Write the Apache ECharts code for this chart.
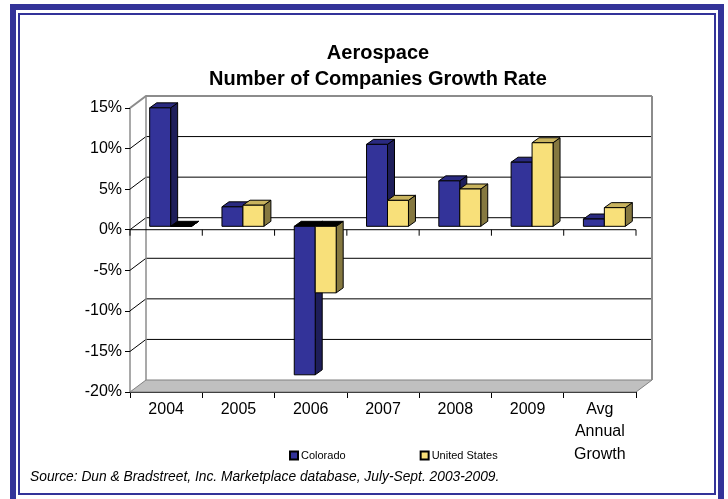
<!DOCTYPE html>
<html>
<head>
<meta charset="utf-8">
<script src="https://cdn.jsdelivr.net/npm/echarts@6/dist/echarts.min.js"></script>
<style>
html,body{margin:0;padding:0;background:#fff;}
#c{width:728px;height:499px;}
</style>
</head>
<body>
<div id="c"></div>
<script>
const categories = ['2004','2005','2006','2007','2008','2009','Avg\nAnnual\nGrowth'];
const colorado = [14.6, 2.4, -18.3, 10.1, 5.6, 7.9, 0.9];
const unitedStates = [0, 2.6, -8.2, 3.2, 4.6, 10.3, 2.3];
const yTicks = [-20, -15, -10, -5, 0, 5, 10, 15];

// 3D look parameters (pixels)
const WDX = 16, WDY = -12;     // back wall depth
const BFX = 4.5, BFY = -3.4;   // bar front-plane offset
const BDX = 7, BDY = -5;       // bar depth
const BAR_FRAC = 0.29;

const chart = echarts.init(document.getElementById('c'), null, {renderer:'canvas'});

function wallsRender(params, api) {
  const cs = params.coordSys;
  const L = cs.x, R = cs.x + cs.width, T = cs.y, B = cs.y + cs.height;
  const kids = [];
  kids.push({type:'polygon', shape:{points:[[L+WDX,T+WDY],[R+WDX,T+WDY],[R+WDX,B+WDY],[L+WDX,B+WDY]]},
    style:{fill:'#ffffff'}});
  kids.push({type:'polygon', shape:{points:[[L,B],[R,B],[R+WDX,B+WDY],[L+WDX,B+WDY]]},
    style:{fill:'#c0c0c0', stroke:'#808080', lineWidth:1}});
  yTicks.forEach(t => {
    const y = api.coord([0, t])[1];
    if (t === yTicks[0]) return;
    const isTop = t === yTicks[yTicks.length-1];
    kids.push({type:'polyline', shape:{points:[[L,y],[L+WDX,y+WDY],[R+WDX,y+WDY]]},
      style:{stroke: isTop ? '#8c8c8c' : '#000000', lineWidth: isTop ? 2 : 1, fill:null}});
  });
  kids.push({type:'line', shape:{x1:L+WDX,y1:T+WDY,x2:L+WDX,y2:B+WDY}, style:{stroke:'#8c8c8c', lineWidth:1.5}});
  kids.push({type:'line', shape:{x1:R+WDX,y1:T+WDY,x2:R+WDX,y2:B+WDY}, style:{stroke:'#8c8c8c', lineWidth:2}});
  // front zero line with ticks
  const y0 = api.coord([0, 0])[1];
  kids.push({type:'line', shape:{x1:L,y1:y0,x2:R,y2:y0}, style:{stroke:'#000', lineWidth:1}});
  const n = categories.length;
  for (let k = 0; k <= n; k++) {
    const x = L + k * cs.width / n;
    kids.push({type:'line', shape:{x1:x,y1:y0,x2:x,y2:y0+6}, style:{stroke:'#000', lineWidth:1}});
  }
  return {type:'group', children:kids};
}

function makeBarRender(side, front, sideCol, topCol) {
  return function(params, api) {
    const i = api.value(0), v = api.value(1);
    const bw = api.size([1, 0])[0];
    const w = bw * BAR_FRAC;
    const c = api.coord([i, 0]);
    const p = api.coord([i, v]);
    const xl = c[0] + (side === 0 ? -w : 0) + BFX;
    const ya = c[1] + BFY, yb = p[1] + BFY;
    const yt = Math.min(ya, yb), ybt = Math.max(ya, yb);
    const tc = v <= 0 ? '#000000' : topCol;
    const st = {stroke:'#000', lineWidth:1, lineJoin:'round'};
    return {type:'group', children:[
      {type:'polygon', shape:{points:[[xl+w,yt],[xl+w+BDX,yt+BDY],[xl+w+BDX,ybt+BDY],[xl+w,ybt]]},
        style:Object.assign({fill:sideCol}, st)},
      {type:'polygon', shape:{points:[[xl,yt],[xl+w,yt],[xl+w+BDX,yt+BDY],[xl+BDX,yt+BDY]]},
        style:Object.assign({fill:tc}, st)},
      {type:'rect', shape:{x:xl, y:yt, width:w, height:ybt-yt},
        style:Object.assign({fill:front}, st)}
    ]};
  };
}

const option = {
  animation:false,
  backgroundColor:'#ffffff',
  title:{
    text:'Aerospace\nNumber of Companies Growth Rate',
    left:373, top:35, textAlign:'center',
    textStyle:{fontFamily:'Liberation Sans', fontSize:20, fontWeight:'bold', color:'#000', lineHeight:26}
  },
  legend:{
    data:['Colorado','United States'],
    left:284, top:445, icon:'rect', itemWidth:8, itemHeight:8, itemGap:74,
    textStyle:{fontFamily:'Liberation Sans', fontSize:11, color:'#000', padding:[0,0,0,-2]}
  },
  grid:{left:130, right:92, top:108, bottom:107},
  xAxis:{
    type:'category', data:categories,
    axisLine:{onZero:false, lineStyle:{color:'#000', width:1}},
    axisTick:{show:true, length:6, lineStyle:{color:'#000'}},
    axisLabel:{fontFamily:'Liberation Sans', fontSize:16, color:'#000', margin:6, lineHeight:22.5, interval:0},
    splitLine:{show:false}
  },
  yAxis:{
    type:'value', min:-20, max:15, interval:5,
    axisLine:{show:true, lineStyle:{color:'#8c8c8c', width:1.5}},
    axisTick:{show:true, length:5, lineStyle:{color:'#000'}},
    axisLabel:{fontFamily:'Liberation Sans', fontSize:16, color:'#000', margin:8, formatter:'{value}%'},
    splitLine:{show:false}
  },
  graphic:[
    {type:'rect', shape:{x:13, y:7, width:708, height:498}, style:{fill:null, stroke:'#333399', lineWidth:6}, z:100},
    {type:'rect', shape:{x:19, y:14, width:696, height:480}, style:{fill:null, stroke:'#333399', lineWidth:2}, z:100},
    {type:'text', left:30, top:470, style:{text:'Source: Dun & Bradstreet, Inc. Marketplace database, July-Sept. 2003-2009.',
      font:'italic 13.8px "Liberation Sans"', fill:'#000'}, z:100}
  ],
  series:[
    {type:'custom', name:'walls', silent:true, z:1, renderItem:wallsRender, data:[[0,0]], legendHoverLink:false},
    {type:'custom', name:'Colorado', z:3,
      itemStyle:{color:'#333399', borderColor:'#000', borderWidth:1},
      renderItem:makeBarRender(0, '#333399', '#1e1e5a', '#2a2a80'),
      data:colorado.map((v,i)=>[i,v])},
    {type:'custom', name:'United States', z:4,
      itemStyle:{color:'#f8e07a', borderColor:'#000', borderWidth:1},
      renderItem:makeBarRender(1, '#f8e07a', '#857840', '#c8b35e'),
      data:unitedStates.map((v,i)=>[i,v])}
  ]
};
chart.setOption(option);
</script>
</body>
</html>
